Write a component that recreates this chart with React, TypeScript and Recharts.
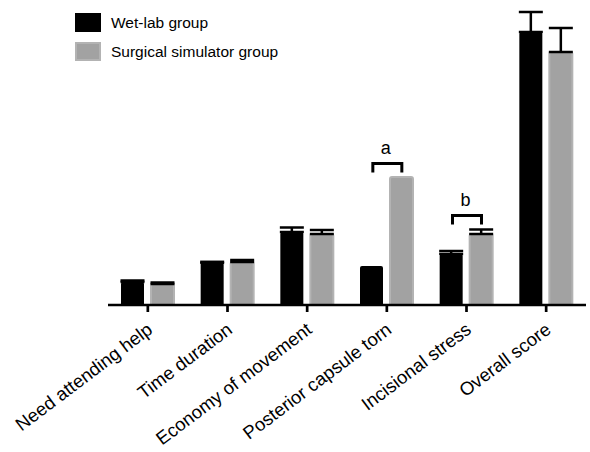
import React from 'react';
import { BarChart, Bar, XAxis, YAxis, ErrorBar, ReferenceDot } from 'recharts';

const categories = [
  'Need attending help',
  'Time duration',
  'Economy of movement',
  'Posterior capsule torn',
  'Incisional stress',
  'Overall score',
];

const wetLab = [2.3, 4.2, 7.3, 3.9, 5.1, 27.3];
const wetLabErr: (number | null)[] = [0.15, 0.12, 0.45, null, 0.3, 2.0];
const simulator = [2.1, 4.3, 7.1, 12.8, 7.1, 25.3];
const simulatorErr: (number | null)[] = [0.15, 0.2, 0.4, null, 0.45, 2.4];

// significance brackets: category, height, letter
const brackets = [
  { category: 'Posterior capsule torn', y: 14.15, label: 'a' },
  { category: 'Incisional stress', y: 8.95, label: 'b' },
];

const FONT = "Arial, 'Liberation Sans', sans-serif";

const data = categories.map((name, i) => ({
  name,
  wet: wetLab[i],
  wetErr: wetLabErr[i] == null ? undefined : [0, wetLabErr[i]],
  sim: simulator[i],
  simErr: simulatorErr[i] == null ? undefined : [0, simulatorErr[i]],
}));

const AngledTick = ({ x, y, payload }: any) => (
  <g transform={`translate(${x + 6},${y + 20})`}>
    <text
      textAnchor="end"
      transform="rotate(-37)"
      fontSize={18.5}
      fontFamily={FONT}
      fill="#000"
    >
      {payload.value}
    </text>
  </g>
);

const BracketShape = ({ cx, cy, label }: any) => (
  <g>
    <path
      d={`M${cx - 14},${cy + 9} V${cy} H${cx + 15} V${cy + 9}`}
      fill="none"
      stroke="#000"
      strokeWidth={3}
    />
    <text x={cx - 1} y={cy - 9.5} textAnchor="middle" fontSize={18} fontFamily={FONT} fill="#000">
      {label}
    </text>
  </g>
);

const LegendBox = () => (
  <div style={{ position: 'absolute', left: 75, top: 13, fontFamily: FONT, fontSize: 15.5, color: '#000' }}>
    <div style={{ display: 'flex', alignItems: 'center', height: 19, marginBottom: 10 }}>
      <div style={{ width: 26, height: 19, background: '#000', marginRight: 10 }} />
      <span>Wet-lab group</span>
    </div>
    <div style={{ display: 'flex', alignItems: 'center', height: 19 }}>
      <div style={{ width: 22, height: 15, background: '#a2a2a2', border: '2px solid #b3b3b3', marginRight: 10 }} />
      <span>Surgical simulator group</span>
    </div>
  </div>
);

export default function App() {
  return (
    <div style={{ position: 'absolute', left: 0, top: 0, width: 590, height: 452, background: '#fff' }}>
      <BarChart
        width={590}
        height={452}
        data={data}
        margin={{ top: 5, right: 4, left: 108, bottom: 0 }}
        barSize={23}
        barGap={7}
      >
        <XAxis
          dataKey="name"
          interval={0}
          height={147}
          tickSize={7}
          tickMargin={0}
          axisLine={{ stroke: '#000', strokeWidth: 2.7 }}
          tickLine={{ stroke: '#000', strokeWidth: 2.7 }}
          tick={<AngledTick />}
        />
        <YAxis hide domain={[0, 30]} />
        <Bar dataKey="wet" fill="#000" radius={[2, 2, 0, 0]} isAnimationActive={false}>
          <ErrorBar dataKey="wetErr" direction="y" width={12} stroke="#000" strokeWidth={2.5} isAnimationActive={false} />
        </Bar>
        <Bar dataKey="sim" fill="#a2a2a2" stroke="#b3b3b3" strokeWidth={2} radius={[2, 2, 0, 0]} isAnimationActive={false}>
          <ErrorBar dataKey="simErr" direction="y" width={12} stroke="#000" strokeWidth={2.5} isAnimationActive={false} />
        </Bar>
        {brackets.map((b) => (
          <ReferenceDot
            key={b.label}
            x={b.category}
            y={b.y}
            ifOverflow="visible"
            shape={(p: any) => <BracketShape {...p} label={b.label} />}
          />
        ))}
      </BarChart>
      <LegendBox />
    </div>
  );
}
